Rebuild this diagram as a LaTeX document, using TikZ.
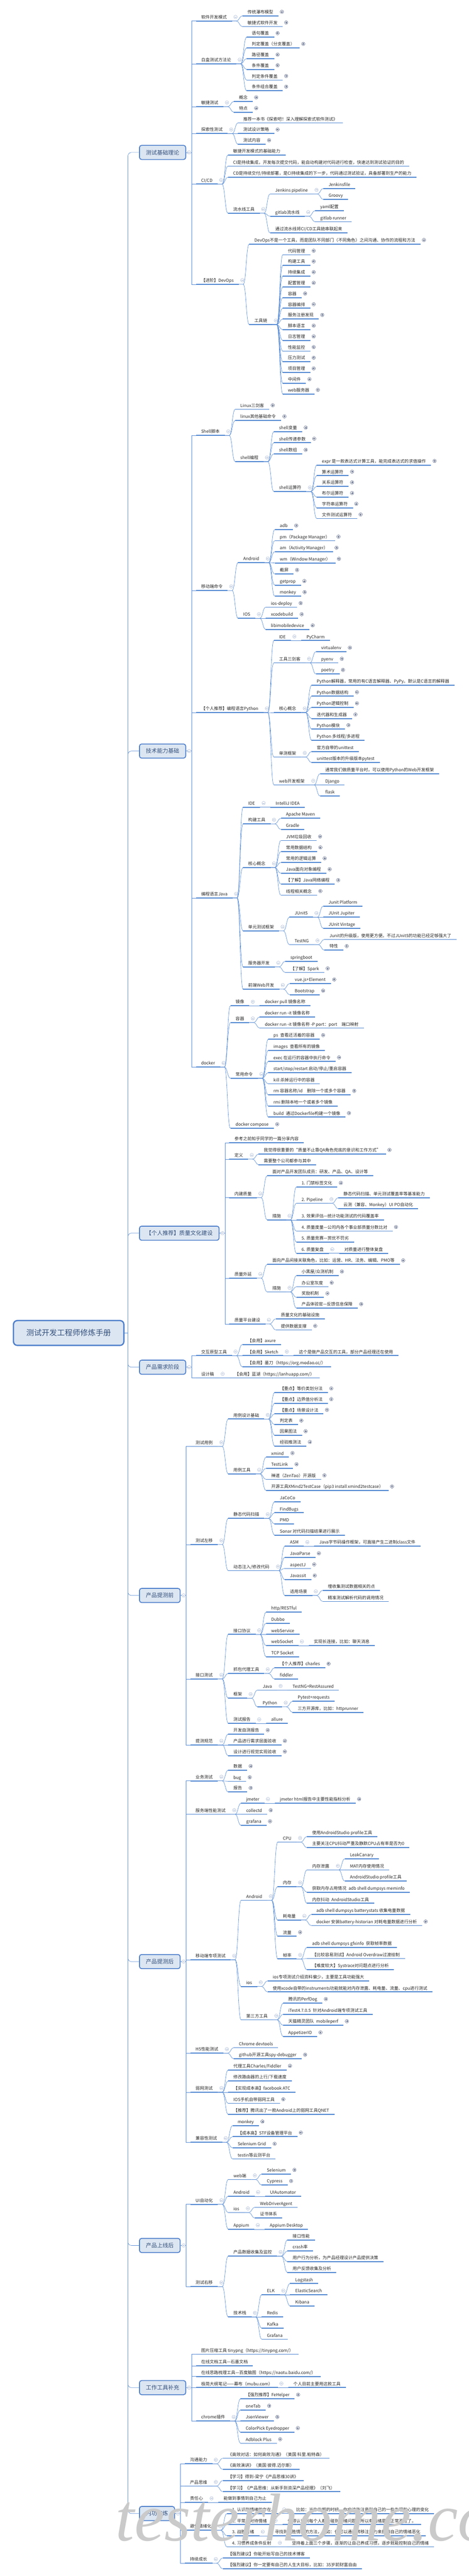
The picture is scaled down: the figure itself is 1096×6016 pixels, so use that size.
\documentclass[tikz,border=0pt]{standalone}
\usepackage{fontspec}
\setmainfont{Noto Sans CJK SC}
\newfontfamily\wmfont{Liberation Serif}
\usetikzlibrary{positioning,calc}
\definecolor{ubl}{HTML}{4F86D1}
\definecolor{lnk}{HTML}{5B8ED6}
\definecolor{boxfill}{HTML}{DCE6F2}
\definecolor{boxline}{HTML}{4E7FCB}
\definecolor{boxtext}{HTML}{34507C}
\definecolor{mic}{HTML}{A3B4D2}
\definecolor{pic}{HTML}{4B587A}
\definecolor{wm}{HTML}{CACACA}
\tikzset{
  tn/.style={anchor=south west, inner xsep=12pt, inner ysep=3pt,
    text height=8pt, text depth=2pt,
    font=\fontsize{10}{12}\selectfont, text=black!85},
  uline/.style={draw=ubl, line width=2.2pt},
  link/.style={draw=lnk, line width=0.8pt},
  lvone/.style={anchor=west, draw=boxline, fill=boxfill, line width=2pt,
    rounded corners=5pt, minimum height=33pt, inner xsep=15pt,
    font=\fontsize{13}{15}\selectfont, text=boxtext},
  rootbox/.style={anchor=east, draw=boxline, fill=boxfill, line width=3pt,
    rounded corners=9pt, minimum height=58pt, inner xsep=30pt,
    font=\fontsize{18}{20}\selectfont, text=boxtext},
  icon/.style={circle, fill=white, line width=0.6pt, minimum size=8pt, inner sep=0pt},
  micon/.style={icon, draw=mic, path picture={
    \draw[mic, line width=0.6pt]
      ([xshift=-2.3pt]path picture bounding box.center) -- ([xshift=2.3pt]path picture bounding box.center);}},
  picon/.style={icon, draw=pic, path picture={
    \draw[pic, line width=0.6pt]
      ([xshift=-2.3pt]path picture bounding box.center) -- ([xshift=2.3pt]path picture bounding box.center)
      ([yshift=-2.3pt]path picture bounding box.center) -- ([yshift=2.3pt]path picture bounding box.center);}}
}
% icon after a node: p = collapsed, m = expanded, n = none
\newcommand\kidicon[2]{%
  \if#2p\node[picon] (#1-i) at ([xshift=8pt,yshift=9.5pt]#1.south east) {};\fi
  \if#2m\node[micon] (#1-i) at ([xshift=8pt,yshift=9.5pt]#1.south east) {};\fi}
% first level below a topic box
\newcommand\topkid[5]{%
  \node[tn, xshift=23pt] (#1) at (#2.east |- 0,#3) {#4};
  \draw[uline] (#1.south west) -- (#1.south east);
  \draw[link] (#2.east) -- ++(13,0) |- (#1.south west);
  \kidicon{#1}{#5}}
% deeper levels
\newcommand\subkid[5]{%
  \node[tn, xshift=24pt] (#1) at (#2.south east |- 0,#3) {#4};
  \draw[uline] (#1.south west) -- (#1.south east);
  \draw[link] (#2.south east) -- ++(10,0) .. controls +(7,0) and +(-7,0) .. (#1.south west);
  \kidicon{#1}{#5}}

\begin{document}
\begin{tikzpicture}[x=1pt,y=-1pt]
\fill[white] (0,0) rectangle (1096,6016);
\useasboundingbox (0,0) rectangle (1096,6016);

% root and spine
\node[rootbox] (t) at (291,3113) {测试开发工程师修炼手册};
\coordinate (sp) at ([xshift=8pt]t.east);
\node[lvone, xshift=26pt] (jc) at (sp |- 0,356) {测试基础理论};
\node[lvone, xshift=26pt] (js) at (sp |- 0,1754) {技术能力基础};
\node[lvone, xshift=26pt] (zl) at (sp |- 0,2880) {【个人推荐】质量文化建设};
\node[lvone, xshift=26pt] (xq) at (sp |- 0,3193) {产品需求阶段};
\node[lvone, xshift=26pt] (tq) at (sp |- 0,3726) {产品提测前};
\node[lvone, xshift=26pt] (th) at (sp |- 0,4581) {产品提测后};
\node[lvone, xshift=26pt] (sx) at (sp |- 0,5244) {产品上线后};
\node[lvone, xshift=26pt] (gj) at (sp |- 0,5576) {工作工具补充};
\node[lvone, xshift=26pt] (ng) at (sp |- 0,5870) {内功修炼};
\draw[link] (t.east) -- (sp);
\foreach \n in {jc,js,zl,xq,tq,th,sx,gj,ng}
  \draw[link, rounded corners=8pt] (sp) |- (\n.west);

% 测试基础理论
\topkid{jc1}{jc}{49}{软件开发模式}{m}
\subkid{jc1a}{jc1}{37}{传统瀑布模型}{p}
\subkid{jc1b}{jc1}{62}{敏捷式软件开发}{p}
\topkid{jc2}{jc}{149}{白盒测试方法论}{m}
\subkid{jc2a}{jc2}{87}{语句覆盖}{p}
\subkid{jc2b}{jc2}{112}{判定覆盖（分支覆盖）}{p}
\subkid{jc2c}{jc2}{137}{路径覆盖}{p}
\subkid{jc2d}{jc2}{162}{条件覆盖}{p}
\subkid{jc2e}{jc2}{187}{判定条件覆盖}{p}
\subkid{jc2f}{jc2}{212}{条件组合覆盖}{p}
\topkid{jc3}{jc}{249}{敏捷测试}{m}
\subkid{jc3a}{jc3}{237}{概念}{p}
\subkid{jc3b}{jc3}{262}{特点}{p}
\topkid{jc4}{jc}{312}{探索性测试}{m}
\subkid{jc4a}{jc4}{287}{推荐一本书《探索吧！深入理解探索式软件测试》}{n}
\subkid{jc4b}{jc4}{312}{测试设计策略}{p}
\subkid{jc4c}{jc4}{337}{测试内容}{p}
\topkid{jc5}{jc}{430}{CI/CD}{m}
\subkid{jc5a}{jc5}{362}{敏捷开发模式的基础能力}{n}
\subkid{jc5b}{jc5}{388}{CI是持续集成，开发每次提交代码，能自动构建对代码进行检查，快速达到测试验证的目的}{n}
\subkid{jc5c}{jc5}{414}{CD是持续交付/持续部署，是CI持续集成的下一步，代码通过测试验证，具备部署到生产的能力}{n}
\subkid{jc5d}{jc5}{498}{流水线工具}{m}
\subkid{jc5e}{jc5d}{453}{Jenkins pipeline}{m}
\subkid{jc5f}{jc5e}{440}{Jenkinsfile}{n}
\subkid{jc5g}{jc5e}{466}{Groovy}{n}
\subkid{jc5h}{jc5d}{505}{gitlab流水线}{m}
\subkid{jc5i}{jc5h}{492}{yaml配置}{n}
\subkid{jc5j}{jc5h}{518}{gitlab runner}{n}
\subkid{jc5k}{jc5d}{544}{通过流水线将CI/CD工具链串联起来}{n}
\topkid{jc6}{jc}{664}{【进阶】DevOps}{m}
\subkid{jc6a}{jc6}{570}{DevOps不是一个工具，而是团队不同部门（不同角色）之间沟通、协作的流程和方法}{p}
\subkid{jc6b}{jc6}{758}{工具链}{m}
\foreach \tool [count=\i] in {代码管理,构建工具,持续集成,配置管理,容器,容器编排,服务注册发现,
    脚本语言,日志管理,性能监控,压力测试,项目管理,中间件,web服务器}
  {\subkid{jc6b\i}{jc6b}{570+25*\i}{\tool}{p}}

% 技术能力基础
\topkid{js1}{js}{1017}{Shell脚本}{m}
\subkid{js1a}{js1}{956}{Linux三剑客}{p}
\subkid{js1b}{js1}{982}{linux其他基础命令}{p}
\subkid{js1c}{js1}{1078}{shell编程}{m}
\subkid{js1d}{js1c}{1008}{shell变量}{p}
\subkid{js1e}{js1c}{1034}{shell传递参数}{p}
\subkid{js1f}{js1c}{1060}{shell数组}{p}
\subkid{js1g}{js1c}{1148}{shell运算符}{m}
\subkid{js1h}{js1g}{1086}{expr 是一款表达式计算工具，能完成表达式的求值操作}{p}
\foreach \op [count=\i] in {算术运算符,关系运算符,布尔运算符,字符串运算符,文件测试运算符}
  {\subkid{js1g\i}{js1g}{1086+25*\i}{\op}{p}}
\topkid{js2}{js}{1379}{移动端命令}{m}
\subkid{js2a}{js2}{1314}{Android}{m}
\foreach \cmd [count=\i] in {adb,pm（Package Manager）,am（Activity Manager）,
    wm（Window Manager）,截屏,getprop,monkey}
  {\subkid{js2a\i}{js2a}{1211+25.9*\i}{\cmd}{p}}
\subkid{js2b}{js2}{1444}{IOS}{m}
\subkid{js2b1}{js2b}{1418}{ios-deploy}{p}
\subkid{js2b2}{js2b}{1444}{xcodebuild}{p}
\subkid{js2b3}{js2b}{1470}{libimobiledevice}{p}
\topkid{js3}{js}{1664}{【个人推荐】编程语言Python}{m}
\subkid{js3a}{js3}{1496}{IDE}{m}
\subkid{js3a1}{js3a}{1496}{PyCharm}{n}
\subkid{js3b}{js3}{1548}{工具三剑客}{m}
\subkid{js3b1}{js3b}{1522}{virtualenv}{p}
\subkid{js3b2}{js3b}{1548}{pyenv}{p}
\subkid{js3b3}{js3b}{1574}{poetry}{p}
\subkid{js3c}{js3}{1664}{核心概念}{m}
\subkid{js3c1}{js3c}{1600}{Python解释器，常用的有C语言解释器、PyPy。默认是C语言的解释器}{n}
\subkid{js3c2}{js3c}{1626}{Python数据结构}{p}
\subkid{js3c3}{js3c}{1652}{Python逻辑控制}{p}
\subkid{js3c4}{js3c}{1678}{迭代器和生成器}{p}
\subkid{js3c5}{js3c}{1703}{Python模块}{p}
\subkid{js3c6}{js3c}{1729}{Python 多线程/多进程}{n}
\subkid{js3d}{js3}{1768}{单测框架}{m}
\subkid{js3d1}{js3d}{1755}{官方自带的unittest}{n}
\subkid{js3d2}{js3d}{1781}{unittest版本的升级版本pytest}{n}
\subkid{js3e}{js3}{1833}{web开发框架}{m}
\subkid{js3e1}{js3e}{1807}{通常我们做质量平台时，可以使用Python的Web开发框架}{n}
\subkid{js3e2}{js3e}{1833}{Django}{n}
\subkid{js3e3}{js3e}{1859}{flask}{n}
\topkid{js4}{js}{2097}{编程语言Java}{m}
\subkid{js4a}{js4}{1885}{IDE}{m}
\subkid{js4a1}{js4a}{1885}{IntelliJ IDEA}{n}
\subkid{js4b}{js4}{1924}{构建工具}{m}
\subkid{js4b1}{js4b}{1911}{Apache Maven}{n}
\subkid{js4b2}{js4b}{1937}{Gradle}{n}
\subkid{js4c}{js4}{2026}{核心概念}{m}
\foreach \item [count=\i] in {JVM垃圾回收,常用数据结构,常用的逻辑运算,Java面向对象编程,
    【了解】Java网络编程,线程相关概念}
  {\subkid{js4c\i}{js4c}{1937.5+25.5*\i}{\item}{p}}
\subkid{js4d}{js4}{2174}{单元测试框架}{m}
\subkid{js4d1}{js4d}{2142}{JUnit5}{m}
\subkid{js4d2}{js4d1}{2116}{Junit Platform}{n}
\subkid{js4d3}{js4d1}{2142}{JUnit Jupiter}{n}
\subkid{js4d4}{js4d1}{2168}{JUnit Vintage}{n}
\subkid{js4d5}{js4d}{2206}{TestNG}{m}
\subkid{js4d6}{js4d5}{2194}{Junit的升级版，使用更方便。不过JUnit5的功能已经足够强大了}{n}
\subkid{js4d7}{js4d5}{2219}{特性}{p}
\subkid{js4e}{js4}{2258}{服务器开发}{m}
\subkid{js4e1}{js4e}{2245}{springboot}{n}
\subkid{js4e2}{js4e}{2271}{【了解】Spark}{p}
\subkid{js4f}{js4}{2310}{前端Web开发}{m}
\subkid{js4f1}{js4f}{2297}{vue.js+Element}{p}
\subkid{js4f2}{js4f}{2323}{Bootstrap}{p}
\topkid{js5}{js}{2492}{docker}{m}
\subkid{js5a}{js5}{2349}{镜像}{m}
\subkid{js5a1}{js5a}{2349}{docker pull 镜像名称}{n}
\subkid{js5b}{js5}{2388}{容器}{m}
\subkid{js5b1}{js5b}{2375}{docker run -it 镜像名称}{n}
\subkid{js5b2}{js5b}{2401}{docker run -it 镜像名称 -P port：port\quad 端口映射}{n}
\subkid{js5c}{js5}{2518}{常用命令}{m}
\subkid{js5c1}{js5c}{2427}{ps\enspace 查看还活着的容器}{p}
\subkid{js5c2}{js5c}{2453}{images\enspace 查看所有的镜像}{n}
\subkid{js5c3}{js5c}{2479}{exec 在运行的容器中执行命令}{p}
\subkid{js5c4}{js5c}{2505}{start/stop/restart 启动/停止/重启容器}{n}
\subkid{js5c5}{js5c}{2531}{kill 杀掉运行中的容器}{n}
\subkid{js5c6}{js5c}{2557}{rm 容器名称/id\quad 删除一个或多个容器}{p}
\subkid{js5c7}{js5c}{2583}{rmi 删除本地一个或者多个镜像}{n}
\subkid{js5c8}{js5c}{2609}{build\enspace 通过Dockerfile构建一个镜像}{p}
\subkid{js5d}{js5}{2635}{docker compose}{p}

% 质量文化建设
\topkid{zl1}{zl}{2669}{参考之前知乎同学的一篇分享内容}{n}
\topkid{zl2}{zl}{2707}{定义}{m}
\subkid{zl2a}{zl2}{2695}{我觉得很重要的“质量不止靠QA角色兜底的意识和工作方式”}{p}
\subkid{zl2b}{zl2}{2720}{需要整个公司都参与其中}{n}
\topkid{zl3}{zl}{2797}{内建质量}{m}
\subkid{zl3a}{zl3}{2746}{面对产品开发团队成员：研发、产品、QA、设计等}{n}
\subkid{zl3b}{zl3}{2849}{措施}{m}
\subkid{zl3b1}{zl3b}{2772}{1. 门禁标签文化}{p}
\subkid{zl3b2}{zl3b}{2810}{2. Pipeline}{m}
\subkid{zl3b3}{zl3b2}{2797}{静态代码扫描、单元测试覆盖率等基准能力}{n}
\subkid{zl3b4}{zl3b2}{2823}{云测（兼容、Monkey）UI PO自动化}{n}
\subkid{zl3b5}{zl3b}{2849}{3. 效果评估—统计功能测试的代码覆盖率}{n}
\subkid{zl3b6}{zl3b}{2875}{4. 质量度量—公司内各个事业部质量分数比对}{p}
\subkid{zl3b7}{zl3b}{2901}{5. 质量竞赛—赏优不罚劣}{n}
\subkid{zl3b8}{zl3b}{2927}{6. 质量复盘}{m}
\subkid{zl3b9}{zl3b8}{2927}{对质量进行整体复盘}{n}
\topkid{zl4}{zl}{2985}{质量外延}{m}
\subkid{zl4a}{zl4}{2953}{面向产品间接关联角色，比如：运营、HR、法务、编辑、PMO等}{p}
\subkid{zl4b}{zl4}{3017}{措施}{m}
\subkid{zl4b1}{zl4b}{2979}{小黑屋/众测机制}{p}
\subkid{zl4b2}{zl4b}{3005}{办公室灰度}{p}
\subkid{zl4b3}{zl4b}{3030}{奖励机制}{p}
\subkid{zl4b4}{zl4b}{3055}{产品体验官—反馈信息保障}{p}
\topkid{zl5}{zl}{3092}{质量平台建设}{m}
\subkid{zl5a}{zl5}{3080}{质量文化的基础设施}{n}
\subkid{zl5b}{zl5}{3106}{提供数据支撑}{p}

% 产品需求阶段
\topkid{xq1}{xq}{3166}{交互原型工具}{m}
\subkid{xq1a}{xq1}{3140}{【会用】axure}{n}
\subkid{xq1b}{xq1}{3166}{【会用】Sketch}{m}
\subkid{xq1c}{xq1b}{3166}{这个是做产品交互的工具，部分产品经理还在使用}{n}
\subkid{xq1d}{xq1}{3192}{【会用】墨刀（https://org.modao.cc/）}{n}
\topkid{xq2}{xq}{3218}{设计稿}{m}
\subkid{xq2a}{xq2}{3218}{【会用】蓝湖（https://lanhuapp.com/）}{n}

% 产品提测前
\topkid{tq1}{tq}{3378}{测试用例}{m}
\subkid{tq1a}{tq1}{3314}{用例设计基础}{m}
\foreach \way [count=\i] in {【重点】等价类划分法,【重点】边界值分析法,【重点】场景设计法,
    判定表,因果图法,经验推测法}
  {\subkid{tq1a\i}{tq1a}{3227+25*\i}{\way}{p}}
\subkid{tq1b}{tq1}{3442}{用例工具}{m}
\subkid{tq1b1}{tq1b}{3403}{xmind}{p}
\subkid{tq1b2}{tq1b}{3429}{TestLink}{p}
\subkid{tq1b3}{tq1b}{3455}{禅道（ZenTao）开源版}{p}
\subkid{tq1b4}{tq1b}{3481}{开源工具XMind2TestCase（pip3 install xmind2testcase）}{p}
\topkid{tq2}{tq}{3607}{测试左移}{m}
\subkid{tq2a}{tq2}{3546}{静态代码扫描}{m}
\subkid{tq2a1}{tq2a}{3507}{JaCoCo}{n}
\subkid{tq2a2}{tq2a}{3533}{FindBugs}{n}
\subkid{tq2a3}{tq2a}{3559}{PMD}{n}
\subkid{tq2a4}{tq2a}{3585}{Sonar 对代码扫描结果进行展示}{n}
\subkid{tq2b}{tq2}{3668}{动态注入/修改代码}{m}
\subkid{tq2b1}{tq2b}{3611}{ASM}{m}
\subkid{tq2b2}{tq2b1}{3611}{Java字节码操作框架，可直接产生二进制class文件}{n}
\subkid{tq2b3}{tq2b}{3637}{JavaParse}{p}
\subkid{tq2b4}{tq2b}{3663}{aspectJ}{p}
\subkid{tq2b5}{tq2b}{3689}{Javassit}{p}
\subkid{tq2b6}{tq2b}{3726}{适用场景}{m}
\subkid{tq2b7}{tq2b6}{3714}{埋收集测试数据相关的点}{n}
\subkid{tq2b8}{tq2b6}{3740}{精准测试解析代码的调用情况}{n}
\topkid{tq3}{tq}{3921}{接口测试}{m}
\subkid{tq3a}{tq3}{3817}{接口协议}{m}
\subkid{tq3a1}{tq3a}{3765}{http/RESTful}{n}
\subkid{tq3a2}{tq3a}{3791}{Dubbo}{n}
\subkid{tq3a3}{tq3a}{3817}{webService}{n}
\subkid{tq3a4}{tq3a}{3843}{webSocket}{m}
\subkid{tq3a5}{tq3a4}{3843}{实现长连接，比如：聊天消息}{n}
\subkid{tq3a6}{tq3a}{3869}{TCP Socket}{n}
\subkid{tq3b}{tq3}{3908}{抓包代理工具}{m}
\subkid{tq3b1}{tq3b}{3895}{【个人推荐】charles}{p}
\subkid{tq3b2}{tq3b}{3921}{fiddler}{n}
\subkid{tq3c}{tq3}{3966}{框架}{m}
\subkid{tq3c1}{tq3c}{3947}{Java}{m}
\subkid{tq3c2}{tq3c1}{3947}{TestNG+RestAssured}{n}
\subkid{tq3c3}{tq3c}{3986}{Python}{m}
\subkid{tq3c4}{tq3c3}{3973}{Pytest+requests}{n}
\subkid{tq3c5}{tq3c3}{3999}{三方开源库，比如：httprunner}{n}
\subkid{tq3d}{tq3}{4025}{测试报告}{m}
\subkid{tq3d1}{tq3d}{4025}{allure}{n}
\topkid{tq4}{tq}{4075}{提测规范}{m}
\subkid{tq4a}{tq4}{4050}{开发自测报告}{p}
\subkid{tq4b}{tq4}{4075}{产品进行需求层面验收}{p}
\subkid{tq4c}{tq4}{4100}{设计进行视觉实现验收}{p}

% 产品提测后
\topkid{th1}{th}{4159}{业务测试}{m}
\subkid{th1a}{th1}{4134}{数据}{p}
\subkid{th1b}{th1}{4160}{bug}{p}
\subkid{th1c}{th1}{4185}{报告}{p}
\topkid{th2}{th}{4237}{服务端性能测试}{m}
\subkid{th2a}{th2}{4211}{jmeter}{m}
\subkid{th2a1}{th2a}{4211}{jmeter html报告中主要性能指标分析}{p}
\subkid{th2b}{th2}{4237}{collectd}{p}
\subkid{th2c}{th2}{4263}{grafana}{p}
\topkid{th3}{th}{4577}{移动端专项测试}{m}
\subkid{th3a}{th3}{4438}{Android}{m}
\subkid{th3a1}{th3a}{4302}{CPU}{m}
\subkid{th3a2}{th3a1}{4289}{使用AndroidStudio profile工具}{n}
\subkid{th3a3}{th3a1}{4315}{主要关注CPU抖动严重及静默CPU占有率是否为0}{n}
\subkid{th3b}{th3a}{4406}{内存}{m}
\subkid{th3b1}{th3b}{4367}{内存泄露}{m}
\subkid{th3b2}{th3b1}{4341}{LeakCanary}{n}
\subkid{th3b3}{th3b1}{4367}{MAT内存使用情况}{n}
\subkid{th3b4}{th3b1}{4393}{AndroidStudio profile工具}{n}
\subkid{th3b5}{th3b}{4419}{获取内存占用情况\enspace adb shell dumpsys meminfo}{n}
\subkid{th3b6}{th3b}{4445}{内存抖动\enspace AndroidStudio工具}{n}
\subkid{th3c}{th3a}{4484}{耗电量}{m}
\subkid{th3c1}{th3c}{4471}{adb shell dumpsys batterystats 收集电量数据}{n}
\subkid{th3c2}{th3c}{4497}{docker 安装battery-historian 对耗电量数据进行分析}{p}
\subkid{th3d}{th3a}{4522}{流量}{p}
\subkid{th3e}{th3a}{4575}{帧率}{m}
\subkid{th3e1}{th3e}{4548}{adb shell dumpsys gfxinfo\enspace 获取帧率数据}{n}
\subkid{th3e2}{th3e}{4574}{【比较容易测试】Android Overdraw过渡绘制}{n}
\subkid{th3e3}{th3e}{4600}{【难度较大】Systrace对问题点进行分析}{n}
\subkid{th3f}{th3}{4639}{ios}{m}
\subkid{th3f1}{th3f}{4626}{ios专项测试介绍资料偏少，主要是工具功能强大}{n}
\subkid{th3f2}{th3f}{4652}{使用xcode自带的instruments功能就能对内存泄露、耗电量、流量、cpu进行测试}{n}
\subkid{th3g}{th3}{4717}{第三方工具}{m}
\subkid{th3g1}{th3g}{4678}{腾讯的PerfDog}{p}
\subkid{th3g2}{th3g}{4704}{iTest4.7.0.5\enspace 针对Android端专项测试工具}{n}
\subkid{th3g3}{th3g}{4730}{天猫精灵团队\enspace mobileperf}{p}
\subkid{th3g4}{th3g}{4756}{AppetizerIO}{p}
\topkid{th4}{th}{4795}{H5性能测试}{m}
\subkid{th4a}{th4}{4782}{Chrome devtools}{n}
\subkid{th4b}{th4}{4808}{github开源工具spy-debugger}{p}
\topkid{th5}{th}{4886}{弱网测试}{m}
\subkid{th5a}{th5}{4834}{代理工具Charles/Fiddler}{p}
\subkid{th5b}{th5}{4860}{修改路由器的上行/下载速度}{n}
\subkid{th5c}{th5}{4886}{【实现成本高】facebook ATC}{n}
\subkid{th5d}{th5}{4912}{IOS手机自带弱网工具}{p}
\subkid{th5e}{th5}{4938}{【推荐】腾讯出了一款Android上的弱网工具QNET}{n}
\topkid{th6}{th}{5003}{兼容性测试}{m}
\subkid{th6a}{th6}{4964}{monkey}{p}
\subkid{th6b}{th6}{4990}{【成本高】STF设备管理平台}{p}
\subkid{th6c}{th6}{5016}{Selenium Grid}{p}
\subkid{th6d}{th6}{5042}{testin等云测平台}{n}

% 产品上线后
\topkid{sx1}{sx}{5148}{UI自动化}{m}
\subkid{sx1a}{sx1}{5090}{web端}{m}
\subkid{sx1a1}{sx1a}{5077}{Selenium}{p}
\subkid{sx1a2}{sx1a}{5103}{Cypress}{p}
\subkid{sx1b}{sx1}{5129}{Android}{m}
\subkid{sx1b1}{sx1b}{5129}{UIAutomator}{n}
\subkid{sx1c}{sx1}{5167}{ios}{m}
\subkid{sx1c1}{sx1c}{5155}{WebDriverAgent}{n}
\subkid{sx1c2}{sx1c}{5180}{证书体系}{n}
\subkid{sx1d}{sx1}{5206}{Appium}{m}
\subkid{sx1d1}{sx1d}{5206}{Appium Desktop}{n}
\topkid{sx2}{sx}{5340}{测试右移}{m}
\subkid{sx2a}{sx2}{5269}{产品数据收集及监控}{m}
\subkid{sx2a1}{sx2a}{5231}{接口性能}{n}
\subkid{sx2a2}{sx2a}{5257}{crash率}{n}
\subkid{sx2a3}{sx2a}{5282}{用户行为分析，为产品经理设计产品提供决策}{n}
\subkid{sx2a4}{sx2a}{5307}{用户反馈收集及分析}{n}
\subkid{sx2b}{sx2}{5411}{技术栈}{m}
\subkid{sx2b1}{sx2b}{5359}{ELK}{m}
\subkid{sx2b2}{sx2b1}{5333}{Logstash}{n}
\subkid{sx2b3}{sx2b1}{5359}{ElasticSearch}{n}
\subkid{sx2b4}{sx2b1}{5385}{Kibana}{n}
\subkid{sx2b5}{sx2b}{5411}{Redis}{n}
\subkid{sx2b6}{sx2b}{5437}{Kafka}{n}
\subkid{sx2b7}{sx2b}{5463}{Grafana}{n}

% 工作工具补充
\topkid{gj1}{gj}{5498}{图片压缩工具 tinypng（https://tinypng.com/）}{n}
\topkid{gj2}{gj}{5525}{在线文档工具—石墨文档}{n}
\topkid{gj3}{gj}{5550}{在线思路梳理工具—百度脑图（https://naotu.baidu.com/）}{n}
\topkid{gj4}{gj}{5576}{极简大纲笔记——幕布（mubu.com）}{m}
\subkid{gj4a}{gj4}{5576}{个人目前主要用这款工具}{n}
\topkid{gj5}{gj}{5654}{chrome插件}{m}
\foreach \ext [count=\i] in {【强烈推荐】FeHelper,oneTab,JsonViewer,ColorPick Eyedropper,Adblock Plus}
  {\subkid{gj5\i}{gj5}{5576+26*\i}{\ext}{p}}

% 内功修炼
\topkid{ng1}{ng}{5754}{沟通能力}{m}
\subkid{ng1a}{ng1}{5741}{《高效对话：如何高效沟通》（美国 科里.帕特森）}{n}
\subkid{ng1b}{ng1}{5767}{《高效演讲》（美国 彼得.迈尔斯）}{n}
\topkid{ng2}{ng}{5806}{产品思维}{m}
\subkid{ng2a}{ng2}{5793}{【学习】得到-梁宁《产品思维30讲》}{n}
\subkid{ng2b}{ng2}{5819}{【学习】《产品思维：从新手到资深产品经理》（刘飞）}{n}
\topkid{ng3}{ng}{5844}{责任心}{m}
\subkid{ng3a}{ng3}{5844}{能做到事情到自己为止}{n}
\topkid{ng4}{ng}{5909}{避免情绪化}{m}
\subkid{ng4a}{ng4}{5870}{1. 认识到情绪的存在。}{m}
\subkid{ng4a1}{ng4a}{5870}{比如：当你发怒的时候，你应该能注意到自己的一些生理和心理的变化}{n}
\subkid{ng4b}{ng4}{5896}{2. 平常心对待情绪}{m}
\subkid{ng4b1}{ng4b}{5896}{你得认识到每个人都会碰到情绪问题，所以有情绪是太正常不过了。}{n}
\subkid{ng4c}{ng4}{5922}{3. 战胜情绪}{m}
\subkid{ng4c1}{ng4c}{5922}{寻找到战胜情绪的方法，比如：你可以通过转移注意力来抵消自己的情绪恶化}{n}
\subkid{ng4d}{ng4}{5948}{4. 习惯养成条件反射}{m}
\subkid{ng4d1}{ng4d}{5948}{坚持着上面三个步骤，逐渐的让自己养成习惯，逐步就能控制自己的情绪}{n}
\topkid{ng5}{ng}{5986}{持续成长}{m}
\subkid{ng5a}{ng5}{5974}{【强烈建议】你能开始写自己的技术博客}{n}
\subkid{ng5b}{ng5}{5999}{【强烈建议】你一定要有自己的人生大目标，比如：35岁前财富自由}{n}

% collapse icons of the topic boxes
\foreach \n in {jc,js,zl,xq,tq,th,sx,gj,ng}
  \node[micon] (\n-i) at ([xshift=7pt]\n.east) {};

% watermark
\node[anchor=base west, inner sep=0pt, text=wm, font=\wmfont\itshape\fontsize{158}{158}\selectfont]
  (mark) at (270,5934) {testerhome.com};
\end{tikzpicture}
\end{document}
